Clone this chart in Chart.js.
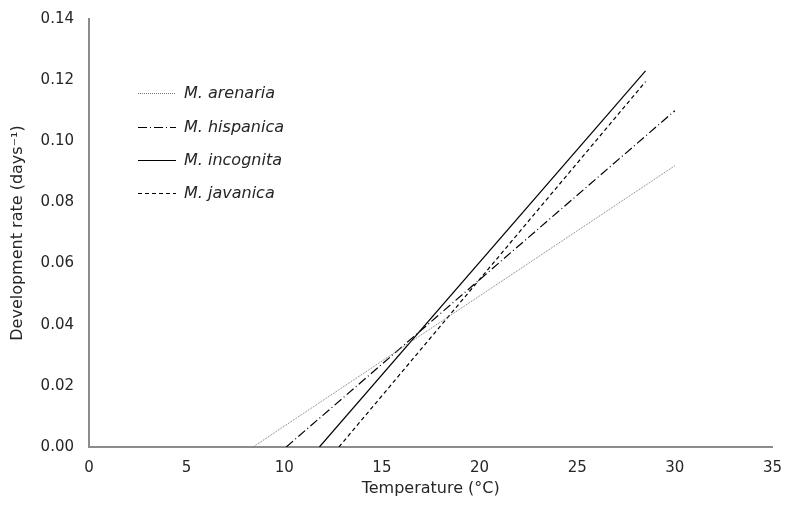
<!DOCTYPE html>
<html>
<head>
<meta charset="utf-8">
<script src="https://cdn.jsdelivr.net/npm/chart.js@4/dist/chart.umd.min.js"></script>
<style>
  html, body { margin: 0; padding: 0; background: #fff; }
  #wrap { width: 789px; height: 513px; }
</style>
</head>
<body>
<div id="wrap"><canvas id="devChart" width="789" height="513"></canvas></div>
<script>
// Linear development-rate fits (start and end points of each line)
const seriesNames = ["M. arenaria", "M. hispanica", "M. incognita", "M. javanica"];
const arenariaTemp = [8.4, 30];
const arenariaRate = [0, 0.092];
const hispanicaTemp = [10.1, 30];
const hispanicaRate = [0, 0.110];
const incognitaTemp = [11.8, 28.5];
const incognitaRate = [0, 0.123];
const javanicaTemp = [12.8, 28.5];
const javanicaRate = [0, 0.1195];
const xTicks = [0, 5, 10, 15, 20, 25, 30, 35];
const yTicks = [0, 0.02, 0.04, 0.06, 0.08, 0.10, 0.12, 0.14];

const FONT = "'DejaVu Sans', sans-serif";
const AXIS = "#8c8c8c";
const TEXT = "#262626";

function toPoints(xs, ys) {
  return xs.map((x, i) => ({ x: x, y: ys[i] }));
}

const styles = [
  { color: "#777", dash: [1, 1], width: 1 },
  { color: "#000", dash: [9, 3, 1, 3], width: 1.2 },
  { color: "#000", dash: [], width: 1.2 },
  { color: "#000", dash: [4, 3], width: 1.2 },
];

const allTemp = [arenariaTemp, hispanicaTemp, incognitaTemp, javanicaTemp];
const allRate = [arenariaRate, hispanicaRate, incognitaRate, javanicaRate];

// legend drawn inside the plot area, upper left
const insideLegend = {
  id: "insideLegend",
  afterDraw(chart) {
    const ctx = chart.ctx;
    const x0 = 138, x1 = 176, tx = 184;
    const rows = [93, 127, 160, 193];
    ctx.save();
    chart.data.datasets.forEach((ds, i) => {
      const y = rows[i] + 0.5;
      ctx.beginPath();
      ctx.strokeStyle = ds.borderColor;
      ctx.lineWidth = ds.borderWidth;
      ctx.setLineDash(ds.borderDash);
      ctx.moveTo(x0, y);
      ctx.lineTo(x1, y);
      ctx.stroke();
      ctx.setLineDash([]);
      ctx.fillStyle = TEXT;
      ctx.font = "italic 16px " + FONT;
      ctx.textBaseline = "middle";
      ctx.fillText(ds.label, tx, y);
    });
    ctx.restore();
  },
};

const ctx = document.getElementById("devChart").getContext("2d");
new Chart(ctx, {
  type: "line",
  data: {
    datasets: seriesNames.map((name, i) => ({
      label: name,
      data: toPoints(allTemp[i], allRate[i]),
      borderColor: styles[i].color,
      borderDash: styles[i].dash,
      borderWidth: styles[i].width,
      pointRadius: 0,
      fill: false,
      tension: 0,
    })),
  },
  options: {
    responsive: false,
    animation: false,
    layout: { padding: { top: 19, right: 15, left: 0, bottom: 0 } },
    scales: {
      x: {
        type: "linear",
        min: 0,
        max: 35,
        afterBuildTicks: (axis) => { axis.ticks = xTicks.map((v) => ({ value: v })); },
        afterFit: (axis) => { axis.height = 66; },
        grid: { display: false, drawTicks: true, tickLength: 5, tickColor: AXIS },
        border: { color: AXIS, width: 2 },
        ticks: { color: TEXT, font: { family: FONT, size: 15 }, padding: 7 },
        title: {
          display: true,
          text: "Temperature (°C)",
          color: TEXT,
          font: { family: FONT, size: 16 },
          padding: { top: 0, bottom: 15 },
        },
      },
      y: {
        min: 0,
        max: 0.14,
        afterBuildTicks: (axis) => { axis.ticks = yTicks.map((v) => ({ value: v })); },
        afterFit: (axis) => { axis.width = 89; },
        grid: { display: false, drawTicks: true, tickLength: 6, tickColor: AXIS },
        border: { color: AXIS, width: 2 },
        ticks: {
          color: TEXT,
          font: { family: FONT, size: 15 },
          padding: 9,
          callback: (v) => v.toFixed(2),
        },
        title: {
          display: true,
          text: "Development rate (days⁻¹)",
          color: TEXT,
          font: { family: FONT, size: 16 },
          padding: { top: 8, bottom: 4 },
        },
      },
    },
    plugins: {
      legend: { display: false },
      tooltip: { enabled: false },
    },
  },
  plugins: [insideLegend],
});
</script>
</body>
</html>
